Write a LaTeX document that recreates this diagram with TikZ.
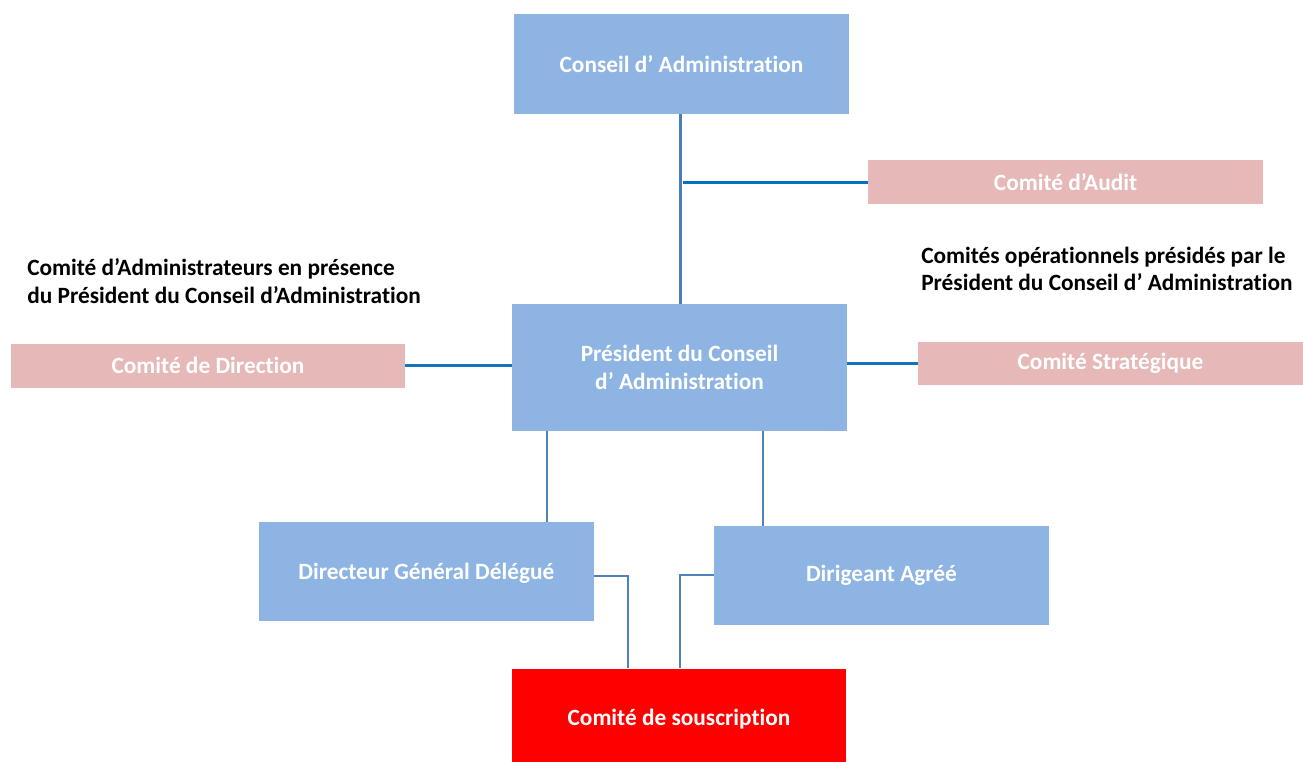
\documentclass[tikz,border=0pt]{standalone}
\usepackage{fontspec}
\setmainfont[Ligatures=NoCommon]{Carlito}
\definecolor{boxblue}{HTML}{8EB4E3}
\definecolor{boxpink}{HTML}{E6B9B8}
\definecolor{boxred}{HTML}{FF0000}
\definecolor{lineA}{HTML}{4A7EBB}
\definecolor{lineB}{HTML}{0070C0}
\definecolor{lineC}{HTML}{4F81BD}
\begin{document}
\begin{tikzpicture}[x=0.75pt,y=-0.75pt,
  base/.style={rectangle,inner sep=0pt,text=white,font=\bfseries\fontsize{17.5}{21}\selectfont,align=center},
  bluebox/.style={base,fill=boxblue,minimum width=335*0.75pt,minimum height=100*0.75pt},
  pinkbox/.style={base,fill=boxpink,minimum width=394*0.75pt,minimum height=44*0.75pt},
  redbox/.style={base,fill=boxred,minimum width=334*0.75pt,minimum height=93*0.75pt},
  label/.style={inner sep=0pt,align=left,anchor=west,font=\bfseries\fontsize{17.5}{20.5}\selectfont},
  thick line/.style={line width=2.25pt},
  thin line/.style={line width=1.5pt,color=lineC}
]
\useasboundingbox (0,0) rectangle (1303,761);

\node[bluebox] (ca) at (681.5,64) {Conseil d' Administration};
\node[pinkbox,minimum width=395*0.75pt] (audit) at (1065.5,182) {Comité d'Audit};
\node[bluebox,minimum height=127*0.75pt] (pres) at (679.5,367.5) {Président du Conseil\\d' Administration};
\node[pinkbox] (dir) at (208,365.5) {Comité de Direction};
\node[pinkbox,minimum width=385*0.75pt,minimum height=43*0.75pt] (strat) at (1110.5,363.5) {Comité Stratégique};
\node[bluebox,minimum height=99*0.75pt,text depth=0pt] (dgd) at (426.5,571.5) {Directeur Général Délégué};
\node[bluebox,minimum height=99*0.75pt] (dag) at (881.5,575.5) {Dirigeant Agréé};
\node[redbox,text height=15.5pt,text depth=0pt] (sous) at (679,715) {Comité de souscription};

\node[label] (lab1) at (27,281) {Comité d'Administrateurs en présence\\du Président du Conseil d'Administration};
\node[label] (lab2) at (921,269) {Comités opérationnels présidés par le\\Président du Conseil d' Administration};

\coordinate (tap) at (683,182);
\draw[thick line,lineA] (ca.south -| 680,0) -- (pres.north -| 680,0);
\draw[thick line,lineB] (tap) -- (tap -| audit.west);
\draw[thick line,lineB!70!lineA] (dir.east) -- (dir.east -| pres.west);
\draw[thick line,lineB!70!lineA] (strat.west -| pres.east) -- (strat.west);
\draw[thin line] (pres.south -| 547,0) -- (dgd.north -| 547,0);
\draw[thin line] (pres.south -| 763,0) -- (dag.north -| 763,0);
\draw[thin line] (dgd.east |- 0,576) -- (628,576) -- (sous.north -| 628,0);
\draw[thin line] (dag.west |- 0,575) -- (680,575) -- (sous.north -| 680,0);
\end{tikzpicture}
\end{document}
